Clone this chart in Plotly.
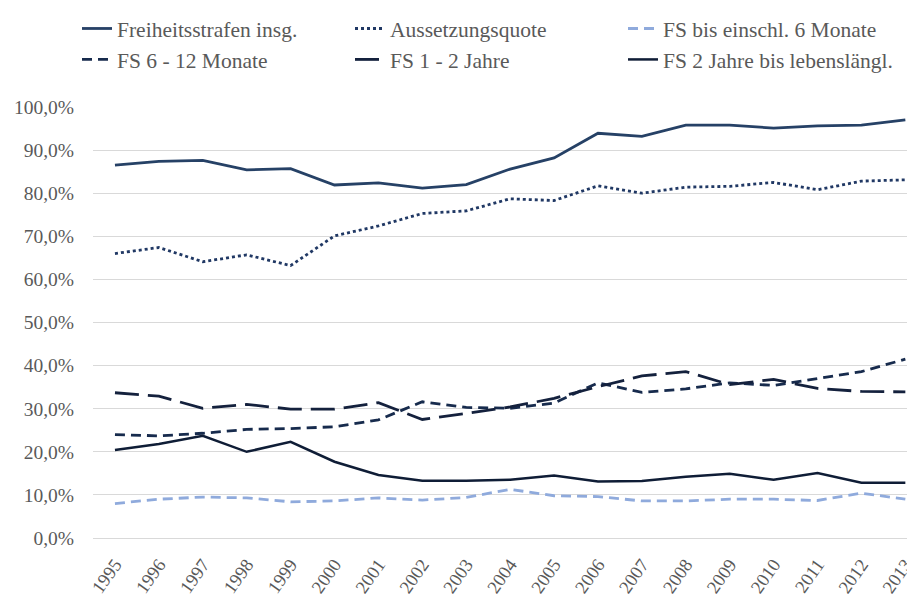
import plotly.graph_objects as go

years = list(range(1995, 2014))

freiheitsstrafen_insg = [86.5, 87.4, 87.6, 85.4, 85.7, 81.9, 82.4, 81.2, 82.0, 85.6,
                         88.2, 93.9, 93.2, 95.8, 95.8, 95.1, 95.6, 95.8, 97.0]
aussetzungsquote = [66.0, 67.4, 64.1, 65.7, 63.2, 70.1, 72.4, 75.3, 75.9, 78.7,
                    78.3, 81.7, 80.0, 81.4, 81.6, 82.5, 80.8, 82.8, 83.1]
fs_bis_6_monate = [8.0, 9.0, 9.5, 9.3, 8.4, 8.6, 9.3, 8.8, 9.4, 11.3,
                   9.8, 9.6, 8.6, 8.6, 9.0, 9.0, 8.7, 10.4, 9.0]
fs_6_12_monate = [24.0, 23.7, 24.3, 25.2, 25.4, 25.8, 27.4, 31.6, 30.3, 30.1,
                  31.3, 36.0, 33.8, 34.6, 36.0, 35.4, 37.0, 38.6, 41.5]
fs_1_2_jahre = [33.7, 32.9, 30.1, 31.0, 29.9, 29.9, 31.4, 27.5, 28.9, 30.4,
                32.4, 35.1, 37.6, 38.6, 35.6, 36.8, 34.7, 34.0, 33.9]
fs_2_jahre_lebenslang = [20.4, 21.8, 23.7, 20.0, 22.3, 17.7, 14.6, 13.3, 13.3, 13.5,
                         14.5, 13.1, 13.2, 14.2, 14.9, 13.5, 15.1, 12.8, 12.8]

series = [
    ("Freiheitsstrafen insg.", freiheitsstrafen_insg, "#264166", "solid", 2.8),
    ("Aussetzungsquote", aussetzungsquote, "#203864", "dot", 2.8),
    ("FS bis einschl. 6 Monate", fs_bis_6_monate, "#8FAADC", "10px,6px", 2.8),
    ("FS 6 - 12 Monate", fs_6_12_monate, "#172B4D", "10px,6px", 2.8),
    ("FS 1 - 2 Jahre", fs_1_2_jahre, "#14213D", "24px,9px", 2.8),
    ("FS 2 Jahre bis lebensl\u00e4ngl.", fs_2_jahre_lebenslang, "#0F1D36", "solid", 2.5),
]

fig = go.Figure()

for name, values, color, dash, width in series:
    fig.add_trace(go.Scatter(
        x=years,
        y=[v / 100 for v in values],
        name=name,
        mode="lines",
        line=dict(color=color, dash=dash, width=width),
    ))

font_family = "Liberation Serif, Times New Roman, serif"

# page body has an 8px margin, so the figure is a bit smaller than the window
fig.update_layout(
    width=907,
    height=593,
    margin=dict(l=85, r=0, t=99, b=63, autoexpand=False),
    paper_bgcolor="white",
    plot_bgcolor="white",
    separators=",.",
    font=dict(family=font_family, color="#595959"),
    showlegend=True,
    legend=dict(
        orientation="h",
        xref="container",
        yref="container",
        x=69 / 907,
        y=1.0,
        xanchor="left",
        yanchor="top",
        entrywidth=228,
        entrywidthmode="pixels",
        font=dict(size=21.5, color="#595959"),
        tracegroupgap=0,
    ),
)

fig.update_xaxes(
    range=[1994.5, 2013.22],
    tickmode="array",
    tickvals=years,
    ticktext=[str(y) for y in years],
    tickangle=-55,
    tickfont=dict(size=18.5, color="#595959"),
    ticklabeloverflow="allow",
    ticklabelstandoff=11,
    automargin=False,
    showgrid=False,
    zeroline=False,
    showline=False,
    ticks="",
)

fig.update_yaxes(
    range=[0, 1],
    dtick=0.1,
    tickformat=".1%",
    tickfont=dict(size=19.5, color="#595959"),
    automargin=False,
    showgrid=True,
    gridcolor="#D9D9D9",
    gridwidth=1,
    zeroline=True,
    zerolinecolor="#D9D9D9",
    zerolinewidth=1,
    showline=False,
    ticks="",
    ticklabelstandoff=18,
)

fig.write_html("out.html")
